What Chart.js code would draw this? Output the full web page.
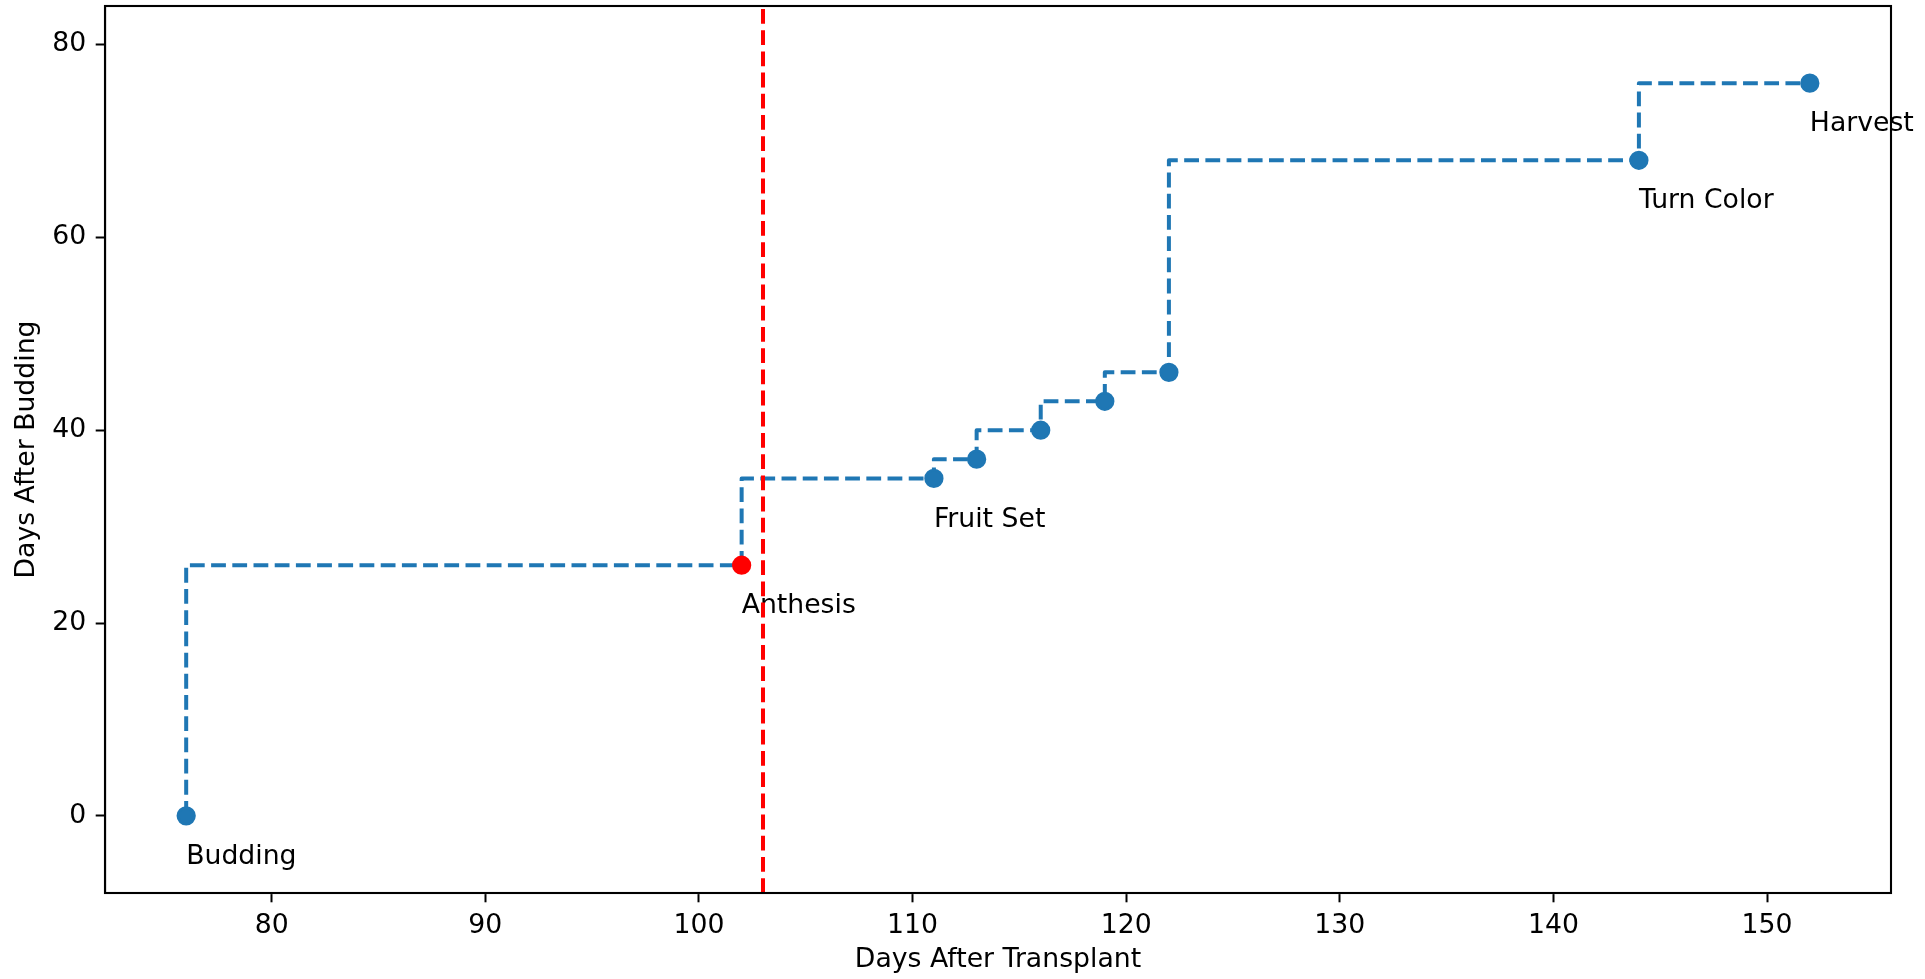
<!DOCTYPE html>
<html>
<head>
<meta charset="utf-8">
<script src="https://cdn.jsdelivr.net/npm/chart.js@4.4.1/dist/chart.umd.min.js"></script>
<style>
  html, body { margin: 0; padding: 0; background: #fff; }
  #wrap { width: 1925px; height: 979px; position: relative; }
</style>
</head>
<body>
<div id="wrap"><canvas id="stageChart"></canvas></div>
<script>
// ===== data =====
const daysAfterTransplant = [76, 102, 111, 113, 116, 119, 122, 144, 152];
const daysAfterBudding = [0, 26, 35, 37, 40, 43, 46, 68, 76];
const stageNames = ['Budding', 'Anthesis', 'Fruit Set', '', '', '', '', 'Turn Color', 'Harvest'];
const highlightIndex = 1;        // anthesis point in red
const anthesisLine = 103;        // red dashed vertical line
const labelDrop = 5;             // labels sit 5 days below their point
const xTicks = [80, 90, 100, 110, 120, 130, 140, 150];
const yTicks = [0, 20, 40, 60, 80];
const xRange = [72.2, 155.8];
const yRange = [-8, 84];

const blue = '#1f77b4';
const font = { family: 'DejaVu Sans', size: 26.7 };

// ===== frame + labels + red line =====
const extras = {
  id: 'extras',
  afterDatasetsDraw(chart) {
    const { ctx, chartArea: a, scales: { x, y } } = chart;
    ctx.save();
    ctx.fillStyle = '#000';
    ctx.font = font.size + 'px ' + font.family;
    ctx.textAlign = 'left';
    ctx.textBaseline = 'alphabetic';
    stageNames.forEach((name, i) => {
      if (!name) return;
      ctx.fillText(name, x.getPixelForValue(daysAfterTransplant[i]),
        y.getPixelForValue(daysAfterBudding[i] - labelDrop));
    });

    ctx.beginPath();
    ctx.rect(a.left, a.top, a.right - a.left, a.bottom - a.top);
    ctx.clip();
    const px = x.getPixelForValue(anthesisLine);
    ctx.strokeStyle = '#ff0000';
    ctx.lineWidth = 4;
    ctx.setLineDash([14.8, 6.4]);
    ctx.beginPath();
    ctx.moveTo(px, a.bottom);
    ctx.lineTo(px, a.top);
    ctx.stroke();
    ctx.restore();

    ctx.save();
    ctx.strokeStyle = '#000';
    ctx.lineWidth = 2.1;
    ctx.strokeRect(a.left, a.top, a.right - a.left, a.bottom - a.top);
    ctx.restore();
  }
};

const points = daysAfterTransplant.map((d, i) => ({ x: d, y: daysAfterBudding[i] }));
const pointColors = points.map((p, i) => i === highlightIndex ? '#ff0000' : blue);

new Chart(document.getElementById('stageChart'), {
  type: 'line',
  data: {
    datasets: [{
      data: points,
      borderColor: blue,
      borderWidth: 4,
      borderDash: [14.8, 6.4],
      borderJoinStyle: 'round',
      stepped: 'after',
      fill: false,
      pointRadius: 8.3,
      pointBorderWidth: 2.67,
      pointBackgroundColor: pointColors,
      pointBorderColor: pointColors
    }]
  },
  options: {
    responsive: true,
    maintainAspectRatio: false,
    animation: false,
    layout: { autoPadding: false, padding: { top: 6, right: 34, left: 0, bottom: 0 } },
    plugins: { legend: { display: false }, tooltip: { enabled: false } },
    scales: {
      x: {
        type: 'linear',
        min: xRange[0],
        max: xRange[1],
        afterBuildTicks: s => { s.ticks = xTicks.map(v => ({ value: v })); },
        afterFit: s => { s.height = 86; s.paddingLeft = 0; s.paddingRight = 0; },
        grid: { drawOnChartArea: false, drawTicks: true, tickLength: 9.3, tickWidth: 2, tickColor: '#000' },
        border: { display: true, color: '#000', width: 2.1 },
        ticks: { color: '#000', font: font, padding: 8, maxRotation: 0 },
        title: { display: true, text: 'Days After Transplant', color: '#000', font: font, padding: { top: 0, bottom: 3 } }
      },
      y: {
        type: 'linear',
        min: yRange[0],
        max: yRange[1],
        afterBuildTicks: s => { s.ticks = yTicks.map(v => ({ value: v })); },
        afterFit: s => { s.width = 105; s.paddingTop = 0; s.paddingBottom = 0; },
        grid: { drawOnChartArea: false, drawTicks: true, tickLength: 9.3, tickWidth: 2, tickColor: '#000' },
        border: { display: true, color: '#000', width: 2.1 },
        ticks: { color: '#000', font: font, padding: 9.5 },
        title: { display: true, text: 'Days After Budding', color: '#000', font: font, padding: { top: 11.5, bottom: 0 } }
      }
    }
  },
  plugins: [extras]
});
</script>
</body>
</html>
